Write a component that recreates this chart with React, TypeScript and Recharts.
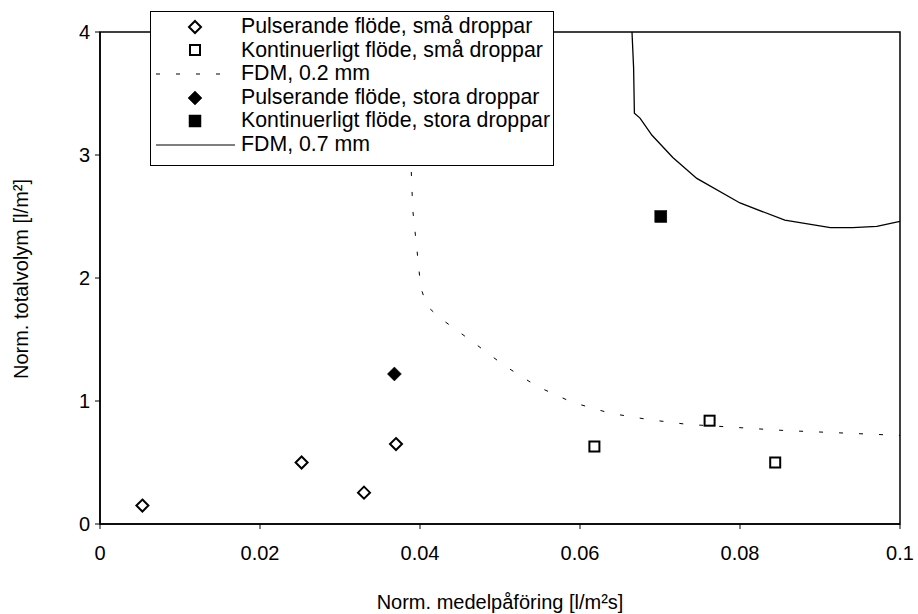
import React from "react";
import {
  ComposedChart,
  Scatter,
  Line,
  XAxis,
  YAxis,
  ReferenceArea,
  Legend,
  Label,
} from "recharts";

// ---- data ----
const pulsSmaX = [0.0053, 0.0252, 0.033, 0.037];
const pulsSmaY = [0.15, 0.5, 0.255, 0.65];

const kontSmaX = [0.0618, 0.0762, 0.0844];
const kontSmaY = [0.63, 0.84, 0.5];

const pulsStoraX = [0.0368];
const pulsStoraY = [1.22];

const kontStoraX = [0.0701];
const kontStoraY = [2.5];

const fdm02X = [0.0385, 0.0387, 0.0389, 0.0391, 0.0396, 0.0401, 0.0409, 0.0426, 0.0466, 0.0505, 0.0546, 0.059, 0.0638, 0.0685, 0.0734, 0.0784, 0.0831, 0.0856, 0.1];
const fdm02Y = [4.0, 3.4, 2.88, 2.55, 2.24, 1.92, 1.77, 1.67, 1.48, 1.29, 1.12, 0.99, 0.9, 0.85, 0.81, 0.79, 0.77, 0.76, 0.72];

const fdm07X = [0.0665, 0.0667, 0.0668, 0.0675, 0.069, 0.0716, 0.0746, 0.08, 0.0856, 0.0913, 0.0941, 0.0971, 0.1];
const fdm07Y = [4.0, 3.71, 3.34, 3.3, 3.16, 2.98, 2.81, 2.61, 2.47, 2.41, 2.41, 2.42, 2.46];

const xTicks = [0, 0.02, 0.04, 0.06, 0.08, 0.1];
const xTickLabels = ["0", "0.02", "0.04", "0.06", "0.08", "0.1"];
const yTicks = [0, 1, 2, 3, 4];
const yTickLabels = ["0", "1", "2", "3", "4"];

const seriesNames = [
  "Pulserande flöde, små droppar",
  "Kontinuerligt flöde, små droppar",
  "FDM, 0.2 mm",
  "Pulserande flöde, stora droppar",
  "Kontinuerligt flöde, stora droppar",
  "FDM, 0.7 mm",
];
const xTitle = "Norm. medelpåföring [l/m²s]";
const yTitle = "Norm. totalvolym [l/m²]";

const zip = (xs: number[], ys: number[]) => xs.map((x, i) => ({ x, y: ys[i] }));

const FONT = "'Liberation Sans', Arial, sans-serif";

const Diamond = ({ cx, cy, filled }: any) => {
  const r = filled ? 7 : 6;
  return (
    <polygon
      points={`${cx},${cy - r} ${cx + r},${cy} ${cx},${cy + r} ${cx - r},${cy}`}
      fill={filled ? "#000" : "#fff"}
      stroke="#000"
      strokeWidth={filled ? 0.5 : 2}
    />
  );
};

const Square = ({ cx, cy, filled }: any) => {
  const s = filled ? 12 : 10;
  return (
    <rect
      x={cx - s / 2}
      y={cy - s / 2}
      width={s}
      height={s}
      fill={filled ? "#000" : "#fff"}
      stroke="#000"
      strokeWidth={filled ? 0.5 : 2}
    />
  );
};

const legendMarker = (i: number) => {
  const cx = 44;
  const cy = 12;
  switch (i) {
    case 0:
      return <Diamond cx={cx} cy={cy} />;
    case 1:
      return <Square cx={cx} cy={cy} />;
    case 2:
      return <line x1={5} x2={84} y1={cy} y2={cy} stroke="#000" strokeWidth={1} strokeDasharray="4 16" />;
    case 3:
      return <Diamond cx={cx} cy={cy} filled />;
    case 4:
      return <Square cx={cx} cy={cy} filled />;
    default:
      return <line x1={5} x2={84} y1={cy} y2={cy} stroke="#000" strokeWidth={1.2} />;
  }
};

const LegendBox = () => (
  <div
    style={{
      width: 404,
      height: 155,
      boxSizing: "border-box",
      border: "1.5px solid #000",
      background: "#fff",
      paddingTop: 3,
      fontFamily: FONT,
      fontSize: 21.3,
      color: "#000",
    }}
  >
    {seriesNames.map((name, i) => (
      <div key={name} style={{ display: "flex", alignItems: "center", height: 23.6, whiteSpace: "nowrap" }}>
        <svg width={90} height={24} style={{ flex: "none" }}>
          {legendMarker(i)}
        </svg>
        <span style={{ lineHeight: "23.6px" }}>{name}</span>
      </div>
    ))}
  </div>
);

export default function App() {
  return (
    <div style={{ position: "absolute", left: 0, top: 0, width: 918, height: 614, background: "#fff" }}>
      <ComposedChart
        width={918}
        height={614}
        margin={{ top: 32, right: 18, left: 0, bottom: 0 }}
        style={{ fontFamily: FONT }}
      >
        <XAxis
          dataKey="x"
          type="number"
          domain={[0, 0.1]}
          ticks={xTicks}
          tickFormatter={(v: number) => xTickLabels[xTicks.findIndex((t) => Math.abs(t - v) < 1e-9)] ?? String(v)}
          height={90}
          tickSize={5}
          tickMargin={17}
          axisLine={{ stroke: "#000", strokeWidth: 1.5 }}
          tickLine={{ stroke: "#000", strokeWidth: 1 }}
          tick={{ fill: "#000", fontSize: 20, fontFamily: FONT }}
          interval={0}
        >
          <Label
            content={() => (
              <text x={500} y={609} textAnchor="middle" fontSize={20} fontFamily={FONT} fill="#000">
                {xTitle}
              </text>
            )}
          />
        </XAxis>
        <YAxis
          dataKey="y"
          type="number"
          domain={[0, 4]}
          ticks={yTicks}
          tickFormatter={(v: number) => yTickLabels[yTicks.indexOf(v)] ?? String(v)}
          width={100}
          tickSize={5}
          tickMargin={5}
          axisLine={{ stroke: "#000", strokeWidth: 1.5 }}
          tickLine={{ stroke: "#000", strokeWidth: 1 }}
          tick={{ fill: "#000", fontSize: 20, fontFamily: FONT }}
          interval={0}
        >
          <Label
            content={() => (
              <text
                x={28}
                y={279}
                transform="rotate(-90 28 279)"
                textAnchor="middle"
                fontSize={20}
                fontFamily={FONT}
                fill="#000"
              >
                {yTitle}
              </text>
            )}
          />
        </YAxis>
        <ReferenceArea x1={0} x2={0.1} y1={0} y2={4} fill="none" fillOpacity={0} stroke="#000" strokeWidth={1.5} />
        <Line
          data={zip(fdm02X, fdm02Y)}
          dataKey="y"
          type="linear"
          stroke="#000"
          strokeWidth={1}
          strokeDasharray="4 16"
          dot={false}
          activeDot={false}
          isAnimationActive={false}
          legendType="none"
        />
        <Line
          data={zip(fdm07X, fdm07Y)}
          dataKey="y"
          type="linear"
          stroke="#000"
          strokeWidth={1.3}
          dot={false}
          activeDot={false}
          isAnimationActive={false}
          legendType="none"
        />
        <Scatter
          data={zip(pulsSmaX, pulsSmaY)}
          dataKey="y"
          isAnimationActive={false}
          shape={(p: any) => <Diamond cx={p.cx} cy={p.cy} />}
        />
        <Scatter
          data={zip(kontSmaX, kontSmaY)}
          dataKey="y"
          isAnimationActive={false}
          shape={(p: any) => <Square cx={p.cx} cy={p.cy} />}
        />
        <Scatter
          data={zip(pulsStoraX, pulsStoraY)}
          dataKey="y"
          isAnimationActive={false}
          shape={(p: any) => <Diamond cx={p.cx} cy={p.cy} filled />}
        />
        <Scatter
          data={zip(kontStoraX, kontStoraY)}
          dataKey="y"
          isAnimationActive={false}
          shape={(p: any) => <Square cx={p.cx} cy={p.cy} filled />}
        />
        <Legend
          layout="vertical"
          align="center"
          verticalAlign="middle"
          content={() => <LegendBox />}
          wrapperStyle={{ position: "absolute", left: 150, top: 11, width: 404, height: 155 }}
        />
      </ComposedChart>
    </div>
  );
}
